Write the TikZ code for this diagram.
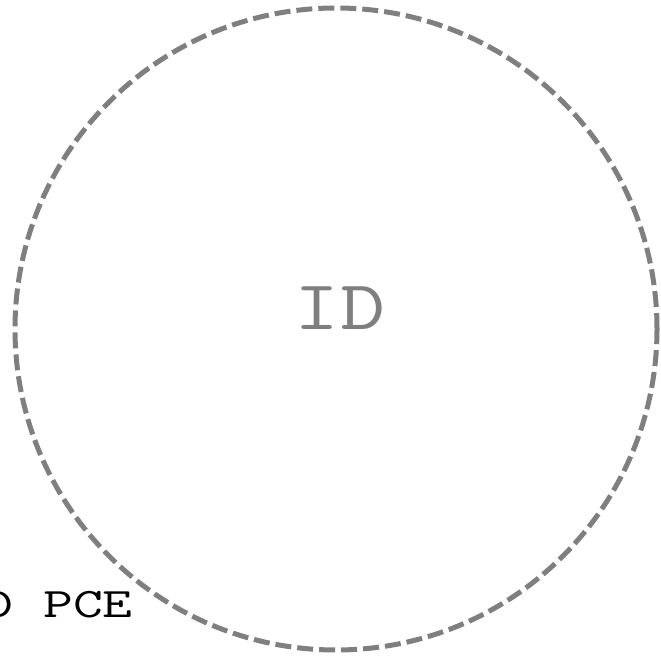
\documentclass[tikz,border=0pt]{standalone}
\usepackage{xcolor}
\usetikzlibrary{positioning}
\definecolor{ring}{HTML}{7F7F7F}

\begin{document}
\begin{tikzpicture}[
  x=1pt, y=1pt,
  idring/.style={draw=ring, line width=5pt, dash pattern=on 16pt off 6pt, circle, minimum size=642pt, inner sep=0pt},
  ringlabel/.style={text=ring, font=\ttfamily\fontsize{70}{70}\selectfont, inner sep=0pt, xscale=1.25, transform shape},
  edgelabel/.style={text=black, font=\ttfamily\fontsize{42}{42}\selectfont, inner sep=0pt, xscale=1.38, transform shape}
]
  \useasboundingbox (0,0) rectangle (661,658);
  \node[idring] (id) at (336,329) {};
  \node[ringlabel] (idtext) at (340,350) {ID};
  \node[edgelabel, anchor=base east] (pce) at (133,40) {D PCE};
\end{tikzpicture}
\end{document}
